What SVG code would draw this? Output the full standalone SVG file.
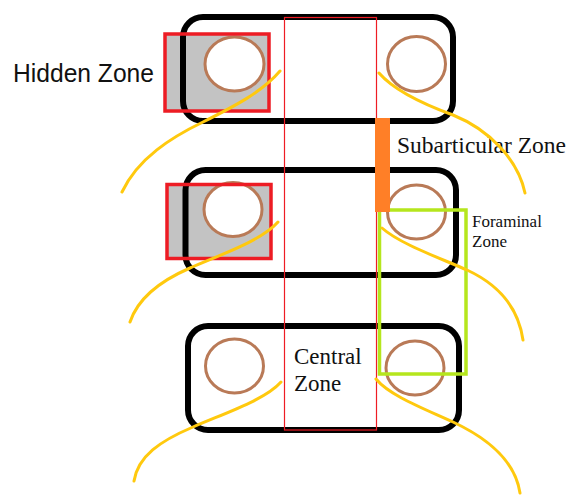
<svg xmlns="http://www.w3.org/2000/svg" width="569" height="496" viewBox="0 0 569 496">
<style>
.hz{fill:#c3c3c3;stroke:none}
.hzb{fill:none;stroke:#ed1c24;stroke-width:3.5}
.blk{fill:none;stroke:#000;stroke-width:6}
.hole{fill:#fff;stroke:#b97a57;stroke-width:3}
.nerve{fill:none;stroke:#ffc90e;stroke-width:3;stroke-linecap:round}
.serif{font-family:"Liberation Serif","Times New Roman",serif;fill:#111}
.sans{font-family:"Liberation Sans",Arial,sans-serif;fill:#111}
</style>
<rect width="569" height="496" fill="#fff"/>
<g id="hidden-zone-fills">
<rect class="hz" x="165" y="34" width="104" height="77"/>
<rect class="hz" x="167" y="184.5" width="104" height="74"/>
</g>
<g id="vertebra-top">
<rect class="blk" x="183" y="17" width="270" height="104" rx="20"/>
<ellipse class="hole" cx="234.5" cy="64" rx="29.5" ry="27"/>
<ellipse class="hole" cx="416.5" cy="64" rx="29" ry="27.5"/>
</g>
<g id="vertebra-middle">
<rect class="blk" x="185.5" y="170" width="270.5" height="105" rx="20"/>
<ellipse class="hole" cx="233" cy="209.5" rx="29" ry="27"/>
<ellipse class="hole" cx="416.5" cy="212" rx="29" ry="27"/>
</g>
<g id="vertebra-bottom">
<rect class="blk" x="188" y="326" width="271" height="104" rx="20"/>
<ellipse class="hole" cx="234.5" cy="366" rx="29" ry="27"/>
<ellipse class="hole" cx="415" cy="368" rx="29" ry="27"/>
</g>
<g id="hidden-zone">
<rect class="hzb" x="165" y="34" width="104" height="77"/>
<rect class="hzb" x="167" y="184.5" width="104" height="74"/>
<text class="sans" x="13" y="82" font-size="26" textLength="141" lengthAdjust="spacingAndGlyphs">Hidden Zone</text>
</g>
<g id="central-zone">
<rect x="284.5" y="17.5" width="92" height="412.5" fill="none" stroke="#ee1c24" stroke-width="1.2"/>
<text class="serif" x="294" y="364" font-size="23">Central</text>
<text class="serif" x="294" y="391" font-size="23">Zone</text>
</g>
<g id="foraminal-zone">
<rect x="379.5" y="210" width="86.5" height="164" fill="none" stroke="#b5e61d" stroke-width="3.5"/>
<text class="serif" x="472" y="227" font-size="17">Foraminal</text>
<text class="serif" x="472" y="247" font-size="17">Zone</text>
</g>
<g id="subarticular-zone">
<rect x="375" y="118" width="15" height="94" fill="#ff7f27"/>
<text class="serif" x="397" y="153" font-size="23.5">Subarticular Zone</text>
</g>
<g id="nerves">
<path class="nerve" d="M280,71 C262,92 235,106 203,122 C172,137 138,158 122,192"/>
<path class="nerve" d="M379,73 C392,88 420,103 453,115 C490,130 518,160 525,193"/>
<path class="nerve" d="M278,222 C262,240 225,253 190,268 C160,281 138,298 130,322"/>
<path class="nerve" d="M382,228 C400,244 440,258 467,270 C495,283 518,305 523,340"/>
<path class="nerve" d="M281,382 C265,400 225,413 193,427 C160,441 138,456 134,481"/>
<path class="nerve" d="M376,379 C390,396 425,409 453,422 C485,437 515,460 520,493"/>
</g>
</svg>
